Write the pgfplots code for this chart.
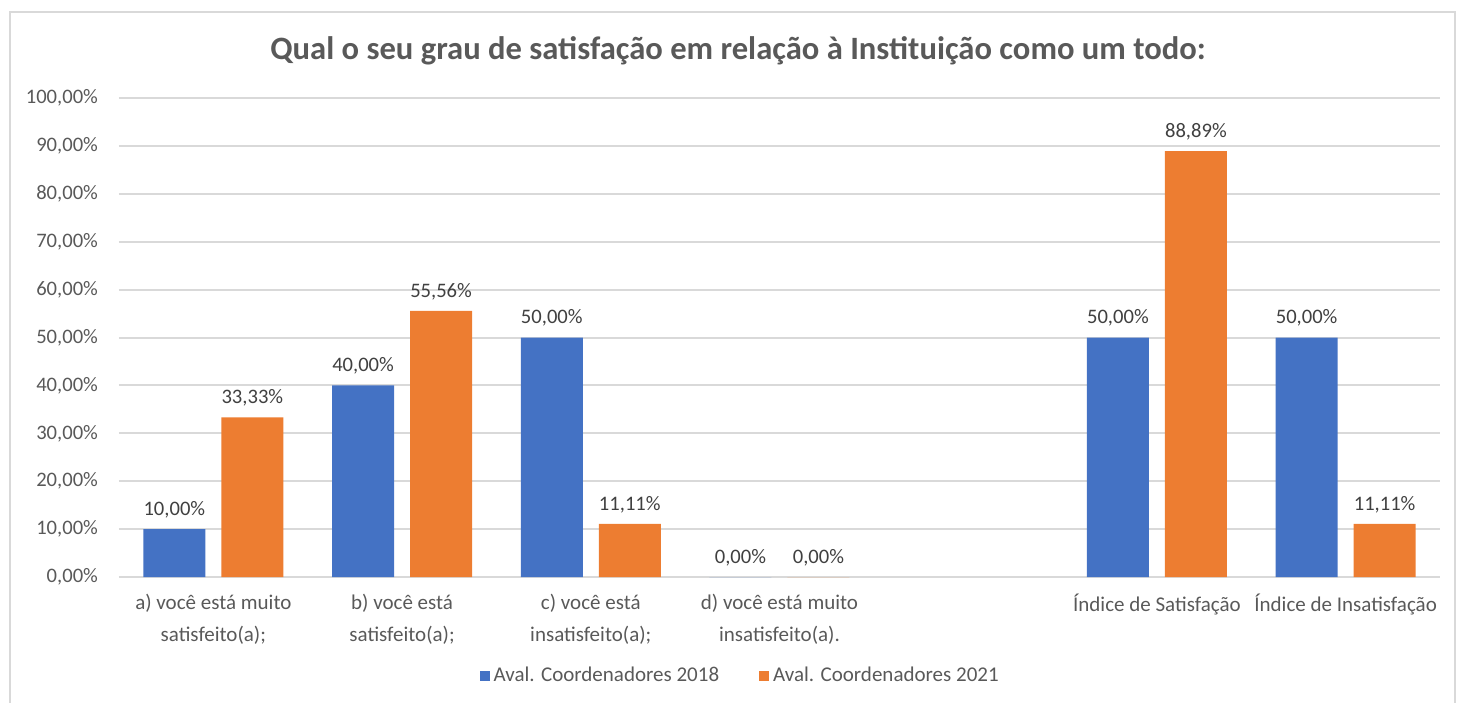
\documentclass[border=0pt]{standalone}
\usepackage{pgfplots}
\pgfplotsset{compat=1.18}
\usepackage{fontspec}
\setmainfont{Carlito}
\definecolor{cblue}{HTML}{4472C4}
\definecolor{corange}{HTML}{ED7D31}
\definecolor{tgray}{HTML}{595959}
\definecolor{lgray}{HTML}{D9D9D9}
\definecolor{dgray}{HTML}{404040}
\begin{document}
\begin{tikzpicture}[x=1pt,y=1pt]
\useasboundingbox (-59.5,-62.5) rectangle (669,288.5);
\draw[lgray, line width=1pt] (-54.5,-70) rectangle (668,282.5);
\begin{axis}[
  at={(0,0)}, anchor=south west,
  scale only axis,
  width=660.5pt, height=239.5pt,
  xmin=-0.5, xmax=6.5,
  ymin=0, ymax=100,
  ytick={0,10,...,100},
  xtick={0,1,2,3,5,6},
  xticklabels={{a) você está muito\\satisfeito(a);},{b) você está\\satisfeito(a);},{c) você está\\insatisfeito(a);},{d) você está muito\\insatisfeito(a).},{Índice de Satisfação},{Índice de Insatisfação}},
  x tick label style={align=center, font=\fontsize{10.5}{16}\selectfont, text=tgray, anchor=north, yshift=-5pt},
  y tick label style={font=\fontsize{10.3}{12}\selectfont, text=tgray, xshift=-7pt},
  /pgf/number format/assume math mode=true,
  yticklabel={\pgfmathprintnumber[fixed,fixed zerofill,precision=2,use comma]{\tick}\%},
  major tick length=0pt,
  axis line style={draw=none},
  ymajorgrids,
  grid style={lgray, line width=1pt},
  ybar=8pt,
  bar width=31pt,
  nodes near coords={\pgfmathprintnumber[fixed,fixed zerofill,precision=2,use comma]{\pgfplotspointmeta}\%},
  nodes near coords style={font=\fontsize{10.3}{12}\selectfont, text=dgray, yshift=2pt},
  legend style={at={(0.471,-0.207)}, anchor=center, draw=none, fill=none, font=\fontsize{10.5}{12}\selectfont, text=tgray, legend columns=2,
    /tikz/every even column/.append style={column sep=18pt}},
  legend image code/.code={\fill[#1] (0pt,-2.5pt) rectangle (5pt,2.5pt);},
  clip=false,
]
\addplot[draw=none, fill=cblue] coordinates {(0,10) (1,40) (2,50) (3,0) (5,50) (6,50)};
\addplot[draw=none, fill=corange] coordinates {(0,33.33) (1,55.56) (2,11.11) (3,0) (5,88.89) (6,11.11)};
\legend{Aval. Coordenadores 2018, Aval. Coordenadores 2021}
\end{axis}
\node[font=\bfseries\fontsize{16.3}{19}\selectfont, text=tgray] at (309.5,263) {Qual o seu grau de satisfação em relação à Instituição como um todo:};
\end{tikzpicture}
\end{document}
